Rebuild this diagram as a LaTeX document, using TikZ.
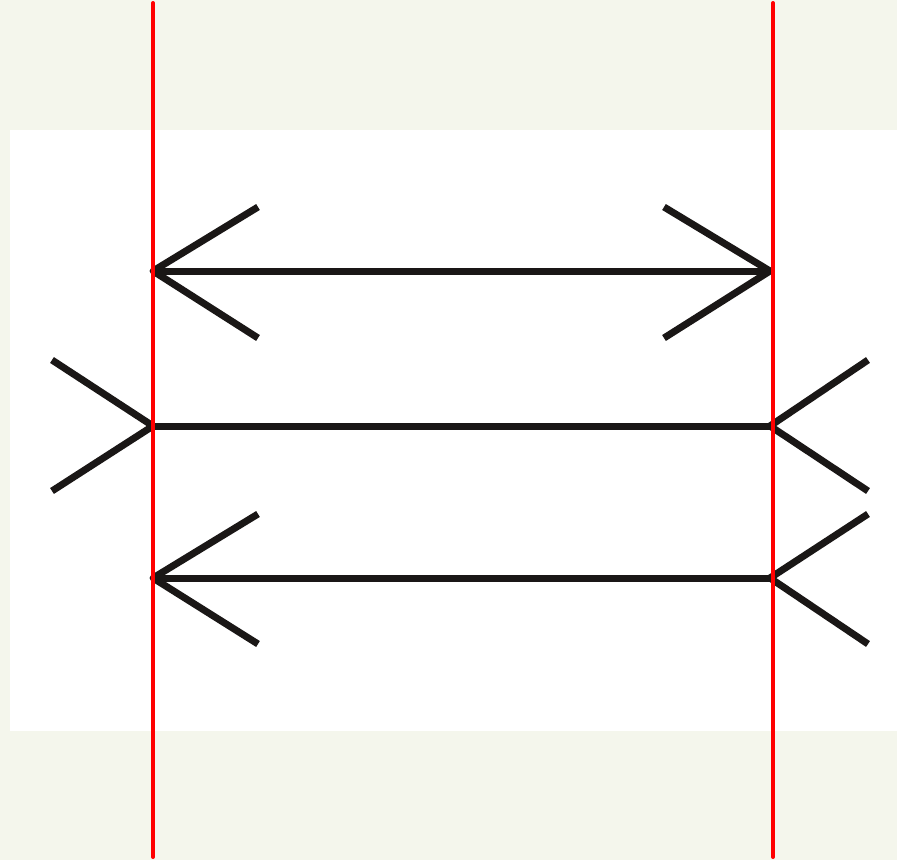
\documentclass[tikz,border=0pt]{standalone}
\usepackage{tikz}
\usetikzlibrary{calc}
\definecolor{slidebg}{HTML}{F4F6EC}
\definecolor{guidered}{HTML}{FF0000}
\definecolor{inkblack}{HTML}{1A1716}

\begin{document}
\begin{tikzpicture}[
        x=0.02cm, y=-0.02cm,
        shaft/.style = {draw=inkblack, line width=0.14cm},
        fin/.style = {shaft, line join=round},
        guide/.style = {draw=guidered, line width=0.08cm, line cap=round}
    ]

        % background and white card
        \fill[slidebg] (0,0) rectangle (897,860);
        \fill[white] (10,130) rectangle (897,731);

        % end points of the three shafts
        \coordinate (topL) at (153,271);
        \coordinate (topR) at (770,271);
        \coordinate (midL) at (153,426);
        \coordinate (midR) at (770,426);
        \coordinate (botL) at (153,578);
        \coordinate (botR) at (770,578);

        % shafts
        \draw[shaft] (topL) -- (topR);
        \draw[shaft] (midL) -- (midR);
        \draw[shaft] (botL) -- (botR);

        % heads pointing outwards
        \draw[fin] ($(topL)+(105,-64)$) -- (topL) -- ($(topL)+(105,67)$);
        \draw[fin] ($(topR)+(-106,-64)$) -- (topR) -- ($(topR)+(-106,67)$);
        \draw[fin] ($(botL)+(105,-64)$) -- (botL) -- ($(botL)+(105,66)$);

        % tails pointing inwards
        \draw[fin] ($(midL)+(-101,-66)$) -- (midL) -- ($(midL)+(-101,65)$);
        \draw[fin] ($(midR)+(98,-66)$) -- (midR) -- ($(midR)+(98,65)$);
        \draw[fin] ($(botR)+(98,-64)$) -- (botR) -- ($(botR)+(98,66)$);

        % red guides
        \coordinate (guideAtop) at (153,3);
        \coordinate (guideAbot) at (153,857);
        \coordinate (guideBtop) at (773,3);
        \coordinate (guideBbot) at (773,857);
        \draw[guide] (guideAtop) -- (guideAbot);
        \draw[guide] (guideBtop) -- (guideBbot);

    \end{tikzpicture}
\end{document}
